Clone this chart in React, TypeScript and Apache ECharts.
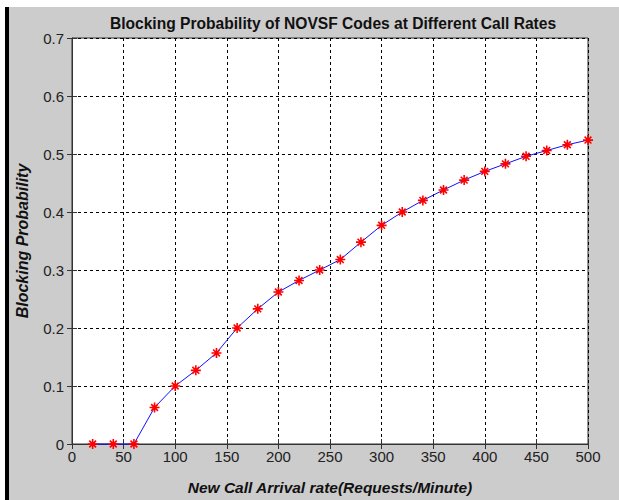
import React, { useEffect, useRef } from "react";
import * as echarts from "echarts";

const callRates = [20, 40, 60, 80, 100, 120, 140, 160, 180, 200, 220, 240, 260, 280, 300, 320, 340, 360, 380, 400, 420, 440, 460, 480, 500];
const blockingProb = [0, 0, 0, 0.063, 0.1, 0.127, 0.157, 0.2, 0.233, 0.262, 0.282, 0.3, 0.318, 0.348, 0.377, 0.4, 0.42, 0.438, 0.455, 0.47, 0.483, 0.496, 0.506, 0.516, 0.524];

const titleText = "Blocking Probability of NOVSF Codes at Different Call Rates";
const xName = "New Call Arrival rate(Requests/Minute)";
const yName = "Blocking Probability";

const asterisk = "path://M5,0L5,10M0,5L10,5M1.6,1.6L8.4,8.4M1.6,8.4L8.4,1.6";

export default function App() {
  const ref = useRef<HTMLDivElement>(null);
  useEffect(() => {
    if (!ref.current) return;
    const chart = echarts.init(ref.current, undefined, { renderer: "svg" });
    const font = "Arial, 'Liberation Sans', Helvetica, sans-serif";
    const hiddenAxis = {
      axisLine: { show: false },
      axisLabel: { show: false },
      splitLine: { show: false },
      axisTick: { show: true, inside: true, length: 5, lineStyle: { color: "#333" } },
    };
    chart.setOption({
      animation: false,
      backgroundColor: "transparent",
      title: {
        text: titleText,
        left: 328,
        textAlign: "center",
        top: 10,
        textStyle: { fontFamily: font, fontWeight: "bold", fontSize: 15.6, color: "#111" },
      },
      grid: {
        left: 72,
        right: 31,
        top: 38,
        bottom: 47,
        show: true,
        backgroundColor: "#ffffff",
        borderColor: "#333",
        borderWidth: 1,
        containLabel: false,
      },
      xAxis: [
        {
          type: "value",
          min: 0,
          max: 500,
          interval: 50,
          name: xName,
          nameLocation: "middle",
          nameGap: 35,
          nameTextStyle: { fontFamily: font, fontWeight: "bold", fontStyle: "italic", fontSize: 15.5, color: "#111" },
          axisLine: { show: true, lineStyle: { color: "#333" } },
          axisTick: { show: true, inside: true, length: 5, lineStyle: { color: "#333" } },
          axisLabel: { fontFamily: font, fontSize: 15, color: "#222", margin: 5 },
          splitLine: { show: true, lineStyle: { color: "#000", type: [3, 3], width: 1 } },
        },
        { type: "value", min: 0, max: 500, interval: 50, position: "top", ...hiddenAxis },
      ],
      yAxis: [
        {
          type: "value",
          min: 0,
          max: 0.7,
          interval: 0.1,
          name: yName,
          nameLocation: "middle",
          nameGap: 42,
          nameRotate: 90,
          nameTextStyle: { fontFamily: font, fontWeight: "bold", fontStyle: "italic", fontSize: 16, color: "#111" },
          axisLine: { show: true, lineStyle: { color: "#333" } },
          axisTick: { show: true, inside: true, length: 5, lineStyle: { color: "#333" } },
          axisLabel: { fontFamily: font, fontSize: 15, color: "#222", margin: 8 },
          splitLine: { show: true, lineStyle: { color: "#000", type: [3, 3], width: 1 } },
        },
        { type: "value", min: 0, max: 0.7, interval: 0.1, position: "right", ...hiddenAxis },
      ],
      series: [
        {
          type: "line",
          data: callRates.map((x, i) => [x, blockingProb[i]]),
          lineStyle: { color: "#1010ff", width: 1 },
          symbol: asterisk,
          symbolSize: 10,
          itemStyle: { color: "none", borderColor: "#ff0000", borderWidth: 1.6 },
          clip: false,
          z: 5,
        },
      ],
    });
    return () => chart.dispose();
  }, []);

  return (
    <div style={{ position: "absolute", left: 0, top: 0, width: 619, height: 500, background: "#ffffff" }}>
      <div style={{ position: "absolute", left: 9, top: 7, width: 610, height: 493, background: "#cccccc" }} />
      <div style={{ position: "absolute", left: 5, top: 7, width: 4, height: 493, background: "#000000" }} />
      <div ref={ref} style={{ position: "absolute", left: 0, top: 0, width: 619, height: 500 }} />
    </div>
  );
}
